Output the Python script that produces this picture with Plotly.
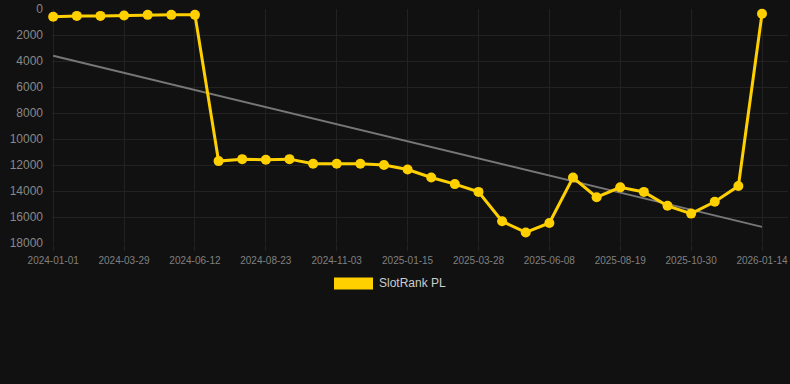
import plotly.graph_objects as go

dates = [
    "2024-01-01", "2024-01-30", "2024-02-28", "2024-03-29", "2024-04-23", "2024-05-18",
    "2024-06-12", "2024-07-06", "2024-07-30", "2024-08-23", "2024-09-16", "2024-10-10",
    "2024-11-03", "2024-11-27", "2024-12-21", "2025-01-15", "2025-02-08", "2025-03-04",
    "2025-03-28", "2025-04-21", "2025-05-15", "2025-06-08", "2025-07-02", "2025-07-26",
    "2025-08-19", "2025-09-12", "2025-10-06", "2025-10-30", "2025-11-24", "2025-12-19",
    "2026-01-14",
]
rank = [
    600, 530, 530, 500, 450, 450, 450,
    11700, 11550, 11600, 11550, 11900, 11900, 11900, 12000, 12350, 12960, 13470, 14070,
    16330, 17190, 16460, 12960, 14480, 13720, 14070, 15140, 15740, 14830, 13620, 360,
]
trend_x = [dates[0], dates[-1]]
trend_y = [3600, 16760]
tick_labels = dates[::3]
y_ticks = [0, 2000, 4000, 6000, 8000, 10000, 12000, 14000, 16000, 18000]
y_tick_text = [str(v) for v in y_ticks]
series_name = "SlotRank PL"

gold = "#FFD000"
bg = "#111111"
grid = "#222222"
font_family = "Arial, Liberation Sans, sans-serif"

fig = go.Figure()
fig.add_trace(go.Scatter(
    x=trend_x, y=trend_y, mode="lines",
    line=dict(color="#777777", width=2), showlegend=False, hoverinfo="skip",
))
fig.add_trace(go.Scatter(
    x=dates, y=rank, mode="lines+markers", name=series_name,
    line=dict(color=gold, width=3), marker=dict(color=gold, size=10),
    showlegend=False, cliponaxis=False,
))

fig.update_layout(
    width=790, height=384,
    paper_bgcolor=bg, plot_bgcolor=bg,
    margin=dict(l=52, r=2, t=6, b=141),
    font=dict(family=font_family, color="#888888"),
    xaxis=dict(
        type="category", categoryorder="array", categoryarray=dates,
        range=[-0.05, 31.1],
        tickmode="array", tickvals=tick_labels, ticktext=tick_labels,
        tickfont=dict(size=10, color="#808080"),
        showgrid=True, gridcolor=grid, gridwidth=1,
        zeroline=False, showline=False,
        ticks="outside", ticklen=7, tickcolor=grid, ticklabelstandoff=1,
    ),
    yaxis=dict(
        range=[18000, -1],
        tickmode="array", tickvals=y_ticks, ticktext=y_tick_text,
        tickfont=dict(size=12, color="#888888"),
        showgrid=True, gridcolor=grid, gridwidth=1,
        zeroline=False, showline=False, ticklabelstandoff=8,
        ticklabeloverflow="allow",
    ),
    showlegend=False,
)

fig.add_shape(type="rect", xref="paper", yref="paper",
              x0=(334 - 52) / 736, x1=(373 - 52) / 736,
              y0=-(290 - 243) / 237, y1=-(278 - 243) / 237,
              fillcolor=gold, line=dict(width=0))
fig.add_annotation(xref="paper", yref="paper",
                   x=(377 - 52) / 736, y=-(284 - 243) / 237,
                   xanchor="left", yanchor="middle", showarrow=False,
                   text=series_name, font=dict(size=12, color="#cccccc", family=font_family))

fig.write_html("out.html", config={"displayModeBar": False},
               post_script="document.body.style.margin='0';")
